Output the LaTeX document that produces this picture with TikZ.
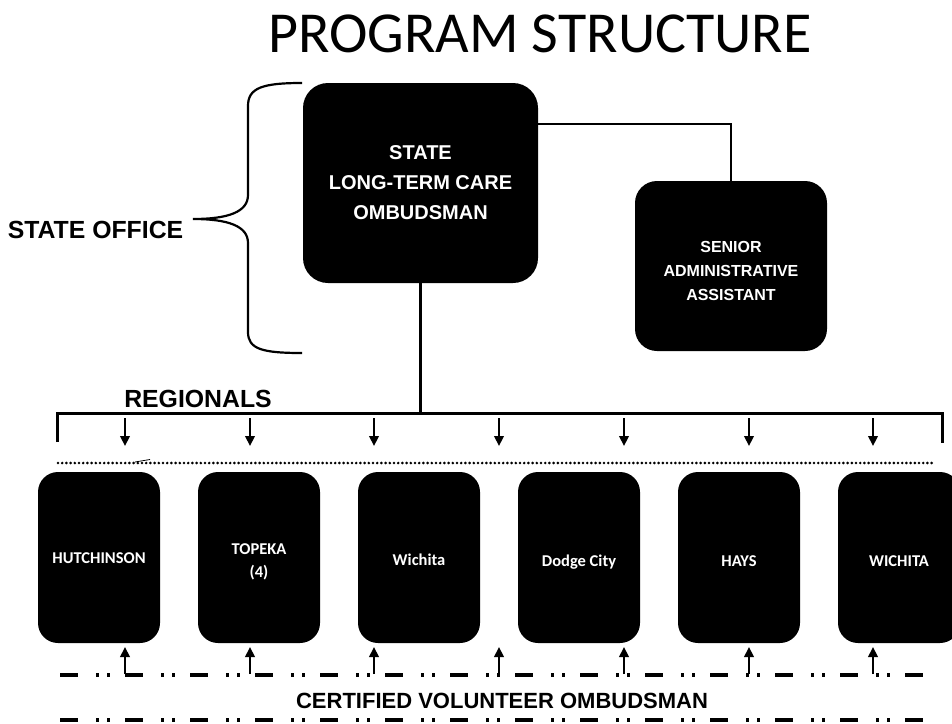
\documentclass[tikz,border=0pt]{standalone}
\usepackage{fontspec}
\setmainfont{Liberation Sans}
\newfontfamily\calib{Carlito}
\usetikzlibrary{arrows.meta,calc}
\tikzset{
  bigbox/.style={fill=black, draw=none, text=white, inner sep=0pt, rounded corners=#1},
  regbox/.style={fill=black, draw=none, inner sep=0pt, rounded corners=20pt,
                 minimum width=122pt, minimum height=171pt},
  regtext/.style={text=white, inner sep=0pt, anchor=base,
                 font=\calib\bfseries\fontsize{16.5}{22}\selectfont},
  conn/.style={line width=2.5pt},
  arr/.style={line width=2.2pt, -{Triangle[width=9.5pt,length=10pt]}},
  dotline/.style={line width=2.9pt, line cap=round, dash pattern=on 0pt off 4.2pt},
  dashdot/.style={line width=3.5pt, dash pattern=on 18pt off 18pt on 3pt off 8pt on 3pt off 15pt},
  lbl/.style={font=\bfseries\fontsize{24}{28}\selectfont, inner sep=0pt, anchor=base}
}
\begin{document}
\begin{tikzpicture}[x=1pt,y=-1pt]
\clip (0,0) rectangle (952,723);
\fill[white] (0,0) rectangle (952,723);

% title
\node[font=\calib\fontsize{58}{60}\selectfont, inner sep=0pt, anchor=base] (title) at (540,52) {PROGRAM STRUCTURE};

% state office boxes
\node[bigbox=25pt, minimum width=235pt, minimum height=200pt] (m) at (420.5,183)
  {\fontsize{20}{30}\selectfont\bfseries\begin{tabular}{@{}c@{}}STATE\\LONG-TERM CARE\\OMBUDSMAN\end{tabular}};
\node[bigbox=22pt, minimum width=192pt, minimum height=170pt] (s) at (731,266) {};
\node[text=white, inner sep=0pt] (stxt) at (731,272)
  {\fontsize{16}{24}\selectfont\bfseries\begin{tabular}{@{}c@{}}SENIOR\\ADMINISTRATIVE\\ASSISTANT\end{tabular}};

% brace and label
\node[lbl, font=\bfseries\fontsize{24.8}{28}\selectfont] (so) at (95.5,238.5) {STATE OFFICE};
\draw[line width=2.2pt] (302,83) .. controls (262,83) and (248,88) .. (248,106)
  -- (248,195) .. controls (248,212) and (228,219) .. (193,219)
  .. controls (228,219) and (248,226) .. (248,243)
  -- (248,332) .. controls (248,349) and (262,353) .. (302,353);

% connectors
\draw[conn] (m.east |- 0,124) -| (s.north);
\coordinate (barL) at (57,413);
\coordinate (barR) at (942,413);
\coordinate (barLe) at (57,442);
\coordinate (barRe) at (942,443);
\draw[conn] (m.south) -- (m.south |- barL);
\draw[line width=3pt] (barLe) -- (barL) -- (barR) -- (barRe);
\node[lbl, font=\bfseries\fontsize{24.8}{28}\selectfont] (reg) at (198,407) {REGIONALS};

% dotted line
\coordinate (dotL) at (58,463);
\coordinate (dotR) at (934,463);
\draw[dotline] (dotL) -- (dotR);
\draw[line width=0.8pt] (135,462) -- (150,459.5);

% regional boxes
\node[regbox] (r1) at (99,557.5) {};
\node[regbox] (r2) at (259,557.5) {};
\node[regbox] (r3) at (419,557.5) {};
\node[regbox] (r4) at (579,557.5) {};
\node[regbox] (r5) at (739,557.5) {};
\node[regbox] (r6) at (899,557.5) {};
\node[regtext] (t1) at (99,563.5) {HUTCHINSON};
\node[regtext] (t2a) at (259,554) {TOPEKA};
\node[regtext] (t2b) at (259,577) {(4)};
\node[regtext] (t3) at (419,565) {Wichita};
\node[regtext] (t4) at (579,566) {Dodge City};
\node[regtext] (t5) at (739,566) {HAYS};
\node[regtext] (t6) at (899,566) {WICHITA};

% arrows
\foreach \x [count=\i] in {125,250,374,499,624,749,873} {
  \coordinate (d\i) at (\x,418);
  \coordinate (dt\i) at (\x,446);
  \draw[arr] (d\i) -- (dt\i);
  \coordinate (u\i) at (\x,674);
  \coordinate (ut\i) at (\x,647);
  \draw[arr] (u\i) -- (ut\i);
}

% dash-dot lines
\coordinate (ddL1) at (60,675);
\coordinate (ddR1) at (940,675);
\coordinate (ddL2) at (60,720);
\coordinate (ddR2) at (940,720);
\draw[dashdot] (ddL1) -- (ddR1);
\draw[dashdot] (ddL2) -- (ddR2);
\node[lbl, font=\bfseries\fontsize{22}{26}\selectfont] (cvo) at (502,708) {CERTIFIED VOLUNTEER OMBUDSMAN};
\end{tikzpicture}
\end{document}
